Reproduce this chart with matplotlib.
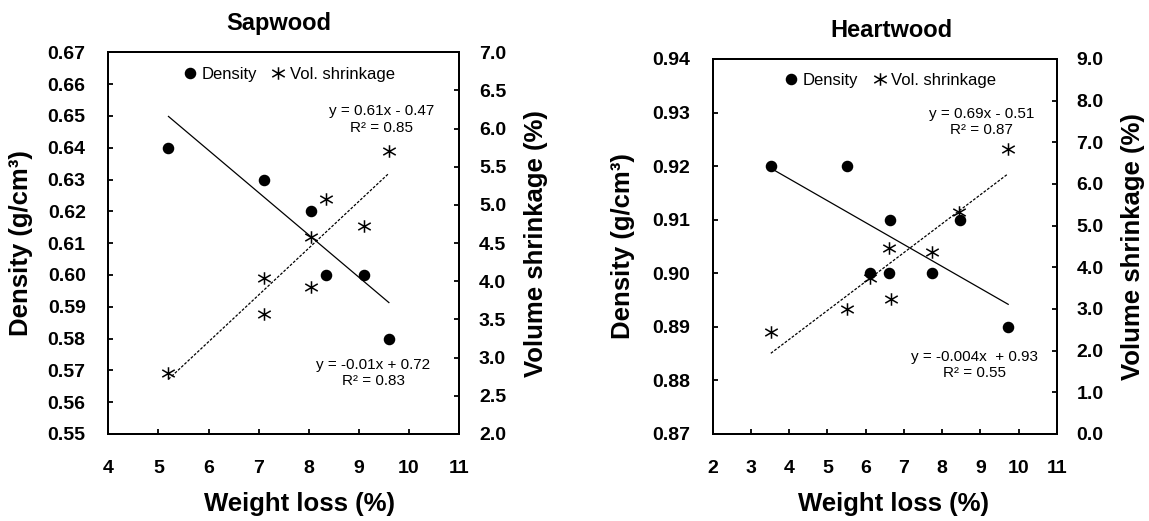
import matplotlib
matplotlib.use('Agg')
import matplotlib.pyplot as plt
from matplotlib.path import Path
from matplotlib.lines import Line2D
import numpy as np

plt.rcParams['font.family'] = ['Liberation Sans', 'DejaVu Sans']

# ---------------- data ----------------
# Sapwood
sap_wl_density = [5.2, 7.1, 8.05, 8.35, 9.1, 9.6]
sap_density = [0.64, 0.63, 0.62, 0.60, 0.60, 0.58]
sap_wl_shrink = [5.2, 7.1, 7.1, 8.05, 8.05, 8.35, 9.1, 9.6]
sap_shrink = [2.80, 4.04, 3.57, 3.93, 4.58, 5.08, 4.72, 5.71]
sap_density_fit = (-0.0133, 0.719)   # slope, intercept as drawn
sap_shrink_fit = (0.613, -0.47)
sap_eq_shrink = "y = 0.61x - 0.47\nR² = 0.85"
sap_eq_density = "y = -0.01x + 0.72\nR² = 0.83"

# Heartwood
heart_wl_density = [3.52, 5.51, 6.63, 8.47, 6.12, 6.62, 7.74, 9.73]
heart_density = [0.92, 0.92, 0.91, 0.91, 0.90, 0.90, 0.90, 0.89]
heart_wl_shrink = [3.52, 5.51, 6.12, 6.61, 6.66, 7.73, 8.45, 9.72]
heart_shrink = [2.44, 3.00, 3.75, 4.47, 3.25, 4.37, 5.33, 6.85]
heart_density_fit = (-0.00409, 0.934)
heart_shrink_fit = (0.694, -0.506)
heart_eq_shrink = "y = 0.69x - 0.51\nR² = 0.87"
heart_eq_density = "y = -0.004x  + 0.93\nR² = 0.55"

sap_xticks = list(range(4, 12))
heart_xticks = list(range(2, 12))
sap_dticks = [0.55, 0.56, 0.57, 0.58, 0.59, 0.60, 0.61, 0.62, 0.63, 0.64, 0.65, 0.66, 0.67]
sap_sticks = [2.0, 2.5, 3.0, 3.5, 4.0, 4.5, 5.0, 5.5, 6.0, 6.5, 7.0]
heart_dticks = [0.87, 0.88, 0.89, 0.90, 0.91, 0.92, 0.93, 0.94]
heart_sticks = [0.0, 1.0, 2.0, 3.0, 4.0, 5.0, 6.0, 7.0, 8.0, 9.0]

# ---------------- style ----------------
star = Path([(0, -1), (0, 1), (-1, -0.58), (1, 0.58), (-1, 0.58), (1, -0.58)],
            [Path.MOVETO, Path.LINETO] * 3)
TICK_FS = 14
LABEL_FS = 18.5
TITLE_FS = 17
EQ_FS = 11
LEG_FS = 12
SPW = 1.4


def panel(ax, title, wl_d, dens, wl_s, shr, dfit, sfit, eq_s, eq_d,
          xticks, dticks, sticks, sfmt, lab_l, lab_r, lab_x, title_x,
          leg_xy, eq_s_xy, eq_d_xy):
    ax2 = ax.twinx()
    # density
    ax.plot(wl_d, dens, 'o', color='black', markersize=7.3, zorder=3)
    xd = np.array([min(wl_d), max(wl_d)])
    ax.plot(xd, dfit[0] * xd + dfit[1], '-', color='black', lw=0.9, zorder=2)
    # shrinkage
    ax2.plot(wl_s, shr, linestyle='none', marker=star, color='black',
             markersize=9, markeredgewidth=1.1, zorder=3)
    xs = np.array([min(wl_s), max(wl_s)])
    ax2.plot(xs, sfit[0] * xs + sfit[1], color='black', lw=0.9,
             linestyle=(0, (2.2, 1.3)), zorder=2)

    ax.set_xlim(xticks[0], xticks[-1])
    ax.set_ylim(dticks[0], dticks[-1])
    ax2.set_ylim(sticks[0], sticks[-1])
    ax.set_xticks(xticks)
    ax.set_xticklabels([str(v) for v in xticks], fontweight='bold')
    ax.set_yticks(dticks)
    ax.set_yticklabels([f"{v:.2f}" for v in dticks], fontweight='bold')
    ax2.set_yticks(sticks)
    ax2.set_yticklabels([sfmt.format(v) for v in sticks], fontweight='bold')

    ax.tick_params(axis='x', direction='in', length=3.6, width=1.3,
                   labelsize=TICK_FS, pad=19.0, top=False)
    ax.tick_params(axis='y', direction='in', length=3.6, width=1.3,
                   labelsize=TICK_FS, pad=16.3, right=False)
    ax2.tick_params(axis='y', direction='in', length=3.6, width=1.3,
                    labelsize=TICK_FS, pad=14.3)
    for a in (ax, ax2):
        for s in a.spines.values():
            s.set_linewidth(SPW)

    ax.set_title(title, fontsize=TITLE_FS, fontweight='bold', pad=16, x=title_x)
    ax.set_xlabel("Weight loss (%)", fontsize=LABEL_FS, fontweight='bold')
    ax.set_ylabel("Density (g/cm³)", fontsize=LABEL_FS, fontweight='bold')
    ax2.set_ylabel("Volume shrinkage (%)", fontsize=LABEL_FS, fontweight='bold')
    ax.xaxis.set_label_coords(lab_x[0], lab_x[1])
    ax.yaxis.set_label_coords(lab_l, 0.5)
    ax2.yaxis.set_label_coords(lab_r, 0.5)

    h1 = Line2D([], [], linestyle='none', marker='o', color='black', markersize=7.3)
    h2 = Line2D([], [], linestyle='none', marker=star, color='black',
                markersize=9, markeredgewidth=1.1)
    ax2.legend([h1, h2], ["Density", "Vol. shrinkage"], loc='center left',
               bbox_to_anchor=leg_xy, ncol=2, frameon=False, fontsize=LEG_FS,
               handlelength=0.8, handletextpad=0.3, columnspacing=0.9,
               borderpad=0, borderaxespad=0, numpoints=1)

    ax2.text(eq_s_xy[0], eq_s_xy[1], eq_s, transform=ax2.transAxes, ha='center',
             va='center', fontsize=EQ_FS, linespacing=1.2, multialignment='center')
    ax2.text(eq_d_xy[0], eq_d_xy[1], eq_d, transform=ax2.transAxes, ha='center',
             va='center', fontsize=EQ_FS, linespacing=1.2, multialignment='center')
    return ax2


fig = plt.figure(figsize=(11.49, 5.21), dpi=100)
axA = fig.add_axes([0.0943, 0.167, 0.3052, 0.7326])
axB = fig.add_axes([0.6203, 0.167, 0.2994, 0.7198])

panel(axA, "Sapwood", sap_wl_density, sap_density, sap_wl_shrink, sap_shrink,
      sap_density_fit, sap_shrink_fit, sap_eq_shrink, sap_eq_density,
      sap_xticks, sap_dticks, sap_sticks, "{:.1f}",
      -0.215, 1.185, (0.545, -0.152), 0.485,
      (0.2127, 0.943), (0.778, 0.824), (0.756, 0.16))

panel(axB, "Heartwood", heart_wl_density, heart_density, heart_wl_shrink, heart_shrink,
      heart_density_fit, heart_shrink_fit, heart_eq_shrink, heart_eq_density,
      heart_xticks, heart_dticks, heart_sticks, "{:.1f}",
      -0.227, 1.186, (0.525, -0.154), 0.52,
      (0.208, 0.942), (0.782, 0.832), (0.761, 0.185))

fig.savefig("out.png", dpi=100)
